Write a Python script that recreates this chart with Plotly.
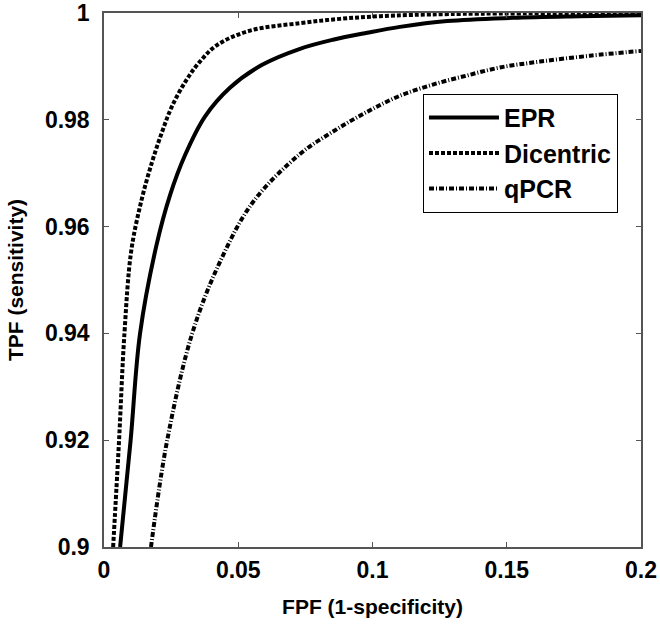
import plotly.graph_objects as go

# ---- data ----
epr_fpf = [0.0060, 0.0099, 0.0134, 0.0194, 0.0246, 0.0302, 0.0376, 0.0469, 0.0589, 0.0730,
           0.0853, 0.0980, 0.1102, 0.1278, 0.1523, 0.1773, 0.2000]
epr_tpf = [0.9000, 0.9199, 0.9399, 0.9562, 0.9659, 0.9734, 0.9806, 0.9860, 0.9903, 0.9933,
           0.9950, 0.9963, 0.9974, 0.9985, 0.9991, 0.9994, 0.9996]

dic_fpf = [0.0034, 0.0056, 0.0076, 0.0101, 0.0138, 0.0179, 0.0216, 0.0253, 0.0305, 0.0354,
           0.0421, 0.0544, 0.0730, 0.0879, 0.1028, 0.1289, 0.2000]
dic_tpf = [0.9000, 0.9199, 0.9399, 0.9553, 0.9646, 0.9721, 0.9777, 0.9825, 0.9873, 0.9907,
           0.9940, 0.9967, 0.9981, 0.9989, 0.9994, 0.9998, 1.0000]

qpcr_fpf = [0.0175, 0.0235, 0.0328, 0.0432, 0.0555, 0.0730, 0.0853, 0.0980, 0.1102, 0.1225,
            0.1352, 0.1475, 0.1624, 0.1810, 0.2000]
qpcr_tpf = [0.9000, 0.9199, 0.9399, 0.9534, 0.9646, 0.9736, 0.9778, 0.9815, 0.9845, 0.9866,
            0.9883, 0.9898, 0.9909, 0.9920, 0.9929]

x_ticks = [0, 0.05, 0.1, 0.15, 0.2]
x_tick_labels = ["0", "0.05", "0.1", "0.15", "0.2"]
y_ticks = [0.9, 0.92, 0.94, 0.96, 0.98, 1.0]
y_tick_labels = ["0.9", "0.92", "0.94", "0.96", "0.98", "1"]

FONT = "Liberation Sans, Arial, sans-serif"

fig = go.Figure()
fig.add_trace(go.Scatter(x=epr_fpf, y=epr_tpf, mode="lines", name="EPR", legendgroup="a",
                         line=dict(color="black", width=4, shape="spline", smoothing=1.0)))
fig.add_trace(go.Scatter(x=dic_fpf, y=dic_tpf, mode="lines", name="Dicentric", legendgroup="b",
                         line=dict(color="black", width=4, dash="4px,2px", shape="spline", smoothing=1.0)))
fig.add_trace(go.Scatter(x=qpcr_fpf, y=qpcr_tpf, mode="lines", name="qPCR", legendgroup="c",
                         line=dict(color="black", width=4, dash="5px,2px,1px,2px", shape="spline", smoothing=1.0)))

axis_common = dict(
    showgrid=False, zeroline=False, showline=True, linecolor="#555555", linewidth=1.5,
    mirror="ticks", ticks="inside", ticklen=5, tickcolor="#555555", automargin=False,
    ticklabeloverflow="allow",
    tickfont=dict(family=FONT, size=23, color="black", weight="bold"),
)

fig.update_xaxes(range=[0, 0.2], tickvals=x_ticks, ticktext=x_tick_labels,
                 title=dict(text="FPF (1-specificity)", font=dict(family=FONT, size=21, color="black", weight="bold"),
                            standoff=17),
                 ticklabelstandoff=2, **axis_common)
fig.update_yaxes(range=[0.9, 1.0], tickvals=y_ticks, ticktext=y_tick_labels,
                 title=dict(text="TPF (sensitivity)", font=dict(family=FONT, size=21, color="black", weight="bold"),
                            standoff=16),
                 ticklabelstandoff=8, **axis_common)

fig.update_layout(
    width=660, height=628,
    margin=dict(l=104, r=19, t=13, b=81),
    paper_bgcolor="white", plot_bgcolor="white",
    showlegend=True,
    legend=dict(x=0.594, y=0.849, xanchor="left", yanchor="top",
                bordercolor="black", borderwidth=1, bgcolor="white",
                font=dict(family=FONT, size=25, color="black", weight="bold"),
                itemwidth=70, tracegroupgap=6, traceorder="normal"),
)

fig.write_html("out.html", config={"displayModeBar": False},
               post_script="document.body.style.margin='0';document.body.style.overflow='hidden';")
